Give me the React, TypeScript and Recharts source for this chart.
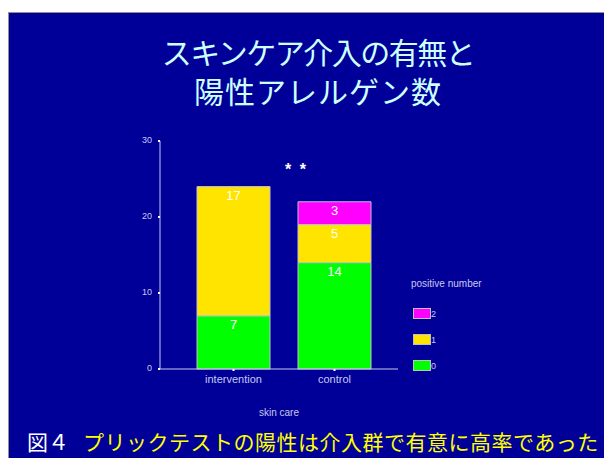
import { Bar, BarChart, LabelList, Legend, XAxis, YAxis } from "recharts";

const groups = ["intervention", "control"];
const zero = [7, 14];
const one = [17, 5];
const two = [0, 3];
const yTicks = [0, 10, 20, 30];

const series = [
  { key: "n0", name: "0", values: zero, color: "#00ff00" },
  { key: "n1", name: "1", values: one, color: "#ffe400" },
  { key: "n2", name: "2", values: two, color: "#ff00ff" },
];

const data = groups.map((g, i) => {
  const row: Record<string, string | number | null> = { group: g };
  series.forEach((s) => {
    row[s.key] = s.values[i] > 0 ? s.values[i] : null;
  });
  return row;
});

const BG = "#000099";
const AXIS = "#c8c8f0";
const FONT = "'Liberation Sans', Arial, sans-serif";
const JP = "'Noto Sans CJK JP', sans-serif";

function LegendBox({ payload }: { payload?: { value: string; color: string }[] }) {
  const items = [...(payload ?? [])].reverse();
  return (
    <div style={{ fontFamily: FONT, color: AXIS }}>
      <div style={{ fontSize: 10, marginBottom: 4 }}>positive number</div>
      {items.map((p) => (
        <div key={p.value} style={{ display: "flex", alignItems: "flex-end", height: 26 }}>
          <span
            style={{
              display: "inline-block",
              width: 16,
              height: 9,
              background: p.color,
              border: "1px solid #c0c0c0",
              marginLeft: 2,
            }}
          />
          <span style={{ fontSize: 9, lineHeight: "9px" }}>{p.value}</span>
        </div>
      ))}
    </div>
  );
}

export default function App() {
  // fixed to the page corner so nothing scrolls; coordinates below are page pixels
  return (
    <div
      style={{
        position: "fixed",
        left: 0,
        top: 0,
        width: 604,
        height: 458,
        overflow: "hidden",
        background: "#ffffff",
      }}
    >
      <div
        style={{
          position: "absolute",
          left: 8,
          top: 12,
          width: 600,
          height: 450,
          background: BG,
          borderLeft: "1px solid #909090",
          borderTop: "1px solid #909090",
          boxSizing: "border-box",
        }}
      />
      <div
        style={{
          position: "absolute",
          left: 8,
          top: 32,
          width: 620,
          textAlign: "center",
          fontFamily: JP,
          color: "#ccffff",
          fontSize: 30,
          lineHeight: "39px",
        }}
      >
        <div style={{ letterSpacing: -1.5 }}>スキンケア介入の有無と</div>
        <div style={{ letterSpacing: 1 }}>陽性アレルゲン数</div>
      </div>
      <div
        style={{
          position: "absolute",
          left: 285,
          top: 161,
          color: "#ffffff",
          fontFamily: FONT,
          fontSize: 16,
          fontWeight: "bold",
          letterSpacing: 2,
        }}
      >
        * *
      </div>
      <div style={{ position: "absolute", left: 100, top: 130 }}>
        <BarChart
          width={420}
          height={300}
          data={data}
          margin={{ top: 11, right: 122, left: 20, bottom: 21 }}
          barSize={73}
        >
          <XAxis
            dataKey="group"
            padding={{ left: 23, right: 13 }}
            height={40}
            axisLine={{ stroke: AXIS }}
            tickLine={{ stroke: "#ffffff", strokeWidth: 2 }}
            tickSize={2}
            tick={{ fontSize: 11, fill: AXIS, fontFamily: FONT }}
            tickMargin={4}
            label={{
              value: "skin care",
              position: "insideBottom",
              offset: -7,
              style: { fontSize: 10, fill: AXIS, fontFamily: FONT },
            }}
          />
          <XAxis xAxisId="top" orientation="top" height={0} tick={false} tickLine={false} axisLine={{ stroke: AXIS }} />
          <YAxis
            domain={[0, 30]}
            ticks={yTicks}
            width={40}
            axisLine={{ stroke: AXIS }}
            tickLine={{ stroke: "#ffffff", strokeWidth: 2 }}
            tickSize={2}
            tickMargin={6}
            tick={{ fontSize: 9, fill: AXIS, fontFamily: FONT, dy: -1 }}
          />
          <YAxis yAxisId="r" orientation="right" width={0} tick={false} tickLine={false} axisLine={{ stroke: AXIS }} />
          <Legend
            layout="vertical"
            align="center"
            verticalAlign="middle"
            wrapperStyle={{ left: 311, top: 148, width: 100 }}
            content={(props) => <LegendBox payload={props.payload as { value: string; color: string }[]} />}
          />
          {series.map((s) => (
            <Bar
              key={s.key}
              dataKey={s.key}
              name={s.name}
              stackId="a"
              fill={s.color}
              stroke="#c0c0d0"
              strokeWidth={1}
              isAnimationActive={false}
            >
              <LabelList
                dataKey={s.key}
                position="insideTop"
                offset={4}
                style={{ fill: "#ffffff", fontSize: 13, fontFamily: FONT }}
              />
            </Bar>
          ))}
        </BarChart>
      </div>
      <div
        style={{
          position: "absolute",
          left: 27,
          top: 426,
          fontFamily: JP,
          fontSize: 21,
          lineHeight: "30px",
          whiteSpace: "nowrap",
        }}
      >
        <span style={{ color: "#ffffff" }}>図４</span>
        <span style={{ color: "#ffff00", marginLeft: 14, letterSpacing: 0.5 }}>
          プリックテストの陽性は介入群で有意に高率であった
        </span>
      </div>
    </div>
  );
}
